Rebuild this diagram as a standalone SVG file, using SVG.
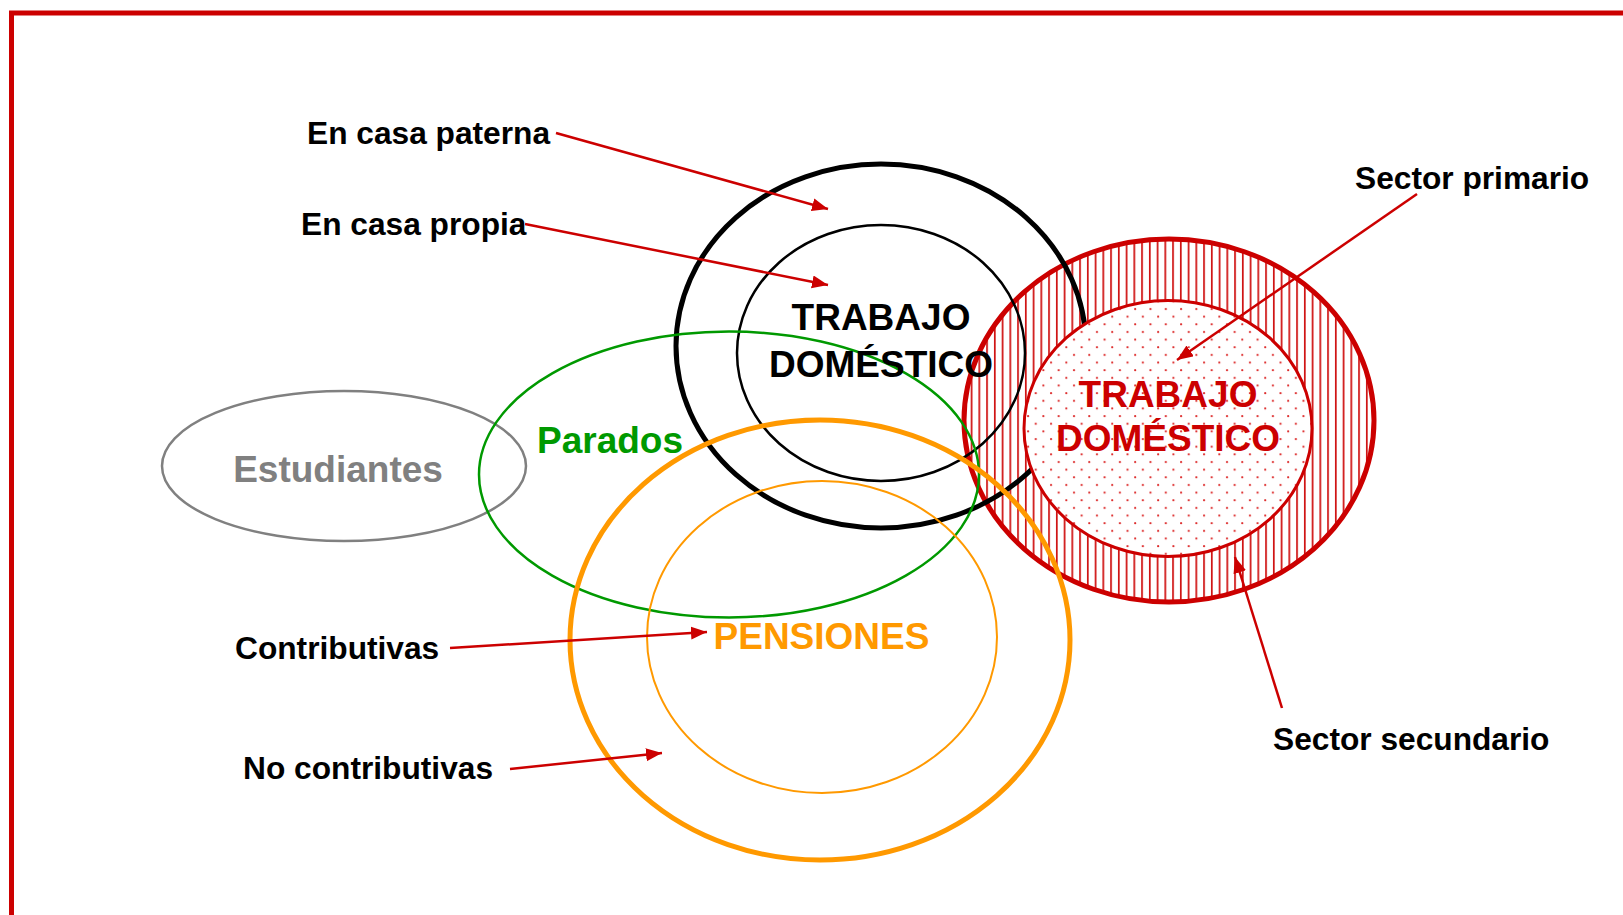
<svg xmlns="http://www.w3.org/2000/svg" width="1623" height="915" viewBox="0 0 1623 915">
<style>
text{font-family:"Liberation Sans",Arial,sans-serif;font-weight:bold}
.lbl{font-size:31.7px;fill:#000}
.big{font-size:37px;text-anchor:middle}
.conn{stroke:#CC0000;stroke-width:2.5;fill:none;marker-end:url(#ah)}
.el{fill:none}
</style>
<defs>
<marker id="ah" markerUnits="userSpaceOnUse" markerWidth="17" markerHeight="14" refX="16" refY="6.5" orient="auto">
<path d="M0,0 L16,6.5 L0,13 z" fill="#CC0000"/>
</marker>
<pattern id="hatch" patternUnits="userSpaceOnUse" width="7.75" height="10">
<rect width="7.75" height="10" fill="#fff"/>
<rect x="2" width="1.6" height="10" fill="#CC0000"/>
</pattern>
<pattern id="dots" patternUnits="userSpaceOnUse" width="15.3" height="15.3">
<rect width="15.3" height="15.3" fill="#fff"/>
<circle cx="3" cy="3" r="1.1" fill="#DD2A2A"/>
<circle cx="10.65" cy="10.65" r="1.1" fill="#DD2A2A"/>
</pattern>
</defs>
<rect width="1623" height="915" fill="#fff"/>
<path id="frame" d="M11.5,915 L11.5,13 L1623,13" fill="none" stroke="#CC0000" stroke-width="5"/>

<g id="sector-outer"><ellipse cx="1169" cy="420.5" rx="205" ry="181.5" fill="url(#hatch)" stroke="#CC0000" stroke-width="5"/></g>
<g id="trabajo-outer"><ellipse class="el" cx="881" cy="346" rx="205" ry="182" stroke="#000" stroke-width="5"/></g>
<g id="trabajo-inner"><ellipse class="el" cx="881" cy="353" rx="144" ry="128" stroke="#000" stroke-width="2.5"/></g>
<g id="sector-inner"><ellipse cx="1168" cy="428.5" rx="144" ry="128" fill="url(#dots)" stroke="#CC0000" stroke-width="3"/></g>
<g id="estudiantes"><ellipse class="el" cx="344" cy="466" rx="182" ry="75" stroke="#808080" stroke-width="2.5"/>
<text x="338" y="482" class="big" fill="#808080">Estudiantes</text></g>
<g id="parados"><ellipse class="el" cx="729" cy="474.5" rx="250" ry="143" stroke="#009900" stroke-width="2.5"/>
<text x="610" y="453" class="big" fill="#009900">Parados</text></g>
<g id="pensiones-outer"><ellipse class="el" cx="820" cy="640" rx="250" ry="220" stroke="#FF9900" stroke-width="5"/></g>
<g id="pensiones-inner"><ellipse class="el" cx="822" cy="637" rx="175" ry="156" stroke="#FF9900" stroke-width="2"/>
<text x="821.5" y="649" class="big" fill="#FF9900">PENSIONES</text></g>
<g id="trabajo-text"><text x="881" y="330" class="big" fill="#000">TRABAJO</text><text x="881" y="377" class="big" fill="#000">DOMÉSTICO</text></g>
<g id="sector-text"><text x="1168" y="407" class="big" fill="#CC0000">TRABAJO</text><text x="1168" y="451" class="big" fill="#CC0000">DOMÉSTICO</text></g>

<g id="label-paterna"><text x="307" y="143.5" class="lbl">En casa paterna</text></g>
<g id="label-propia"><text x="301" y="235" class="lbl">En casa propia</text></g>
<g id="label-primario"><text x="1355" y="189" class="lbl">Sector primario</text></g>
<g id="label-secundario"><text x="1273" y="750" class="lbl">Sector secundario</text></g>
<g id="label-contrib"><text x="235" y="659" class="lbl">Contributivas</text></g>
<g id="label-nocontrib"><text x="243" y="779" class="lbl">No contributivas</text></g>

<g id="connectors">
<line class="conn" x1="556" y1="133" x2="828" y2="209"/>
<line class="conn" x1="525" y1="224" x2="828" y2="285"/>
<line class="conn" x1="450" y1="648" x2="707" y2="632"/>
<line class="conn" x1="510" y1="769" x2="662" y2="753"/>
<line class="conn" x1="1417" y1="194" x2="1177" y2="360"/>
<line class="conn" x1="1282" y1="708" x2="1235" y2="557"/>
</g>
</svg>
